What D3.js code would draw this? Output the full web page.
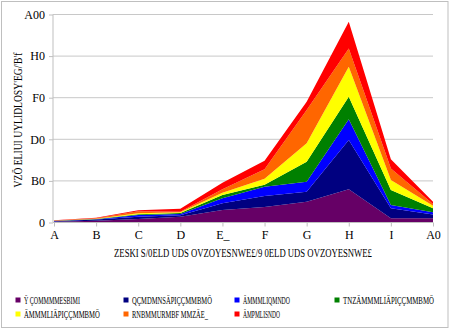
<!DOCTYPE html>
<html><head><meta charset="utf-8">
<script src="https://cdn.jsdelivr.net/npm/d3@7"></script>
<style>body{margin:0;background:#fff}svg{display:block}text{font-family:"Liberation Serif","DejaVu Serif",serif;fill:#000}</style>
</head><body>
<script>
const categories = ["A","B","C","D","E_","F","G","H","I","A0"];
const yTickLabels = ["0","B0","D0","F0","H0","A00"];
const yTickValues = [0,20,40,60,80,100];
const seriesNames = ["Ÿ ÇOMMMMESBIMI","QÇMDMNSÄPIÇÇMMBMÖ","ÄMMMLIQMNDO","TNZÄMMMLIÄPIÇÇMMBMÖ","ÄMMMLIÄPIÇÇMMBMÖ","RNBMMURMBF MMZÄE_","ÄMPMLISNDO"];
const colors = ["#660066","#000080","#0000FF","#008000","#FFFF00","#FF6600","#FF0000"];
const s1 = [0.4,0.9,1.7,2.8,6.0,7.4,10.0,16.0,2.0,2.0];
const s2 = [0.2,0.6,1.1,0.7,3.2,5.4,4.8,23.7,4.8,1.9];
const s3 = [0.1,0.1,0.8,0.6,2.4,4.4,4.8,9.9,1.6,1.0];
const s4 = [0.1,0.1,0.4,0.5,1.6,1.0,9.6,10.9,7.2,1.9];
const s5 = [0.1,0.1,0.4,0.3,1.1,2.8,8.9,14.4,4.8,1.3];
const s6 = [0.1,0.2,1.0,0.3,1.7,4.6,16.0,8.8,5.6,0.8];
const s7 = [0.1,0.3,0.5,1.4,3.1,4.1,4.0,12.8,4.4,1.1];
const xTitle = "ZESKI S/0ELD UDS OVZOYESNWE£/9 0ELD UDS OVZOYESNWE£";
const yTitle = "VZÖ ELIUI UYLIDLOSY'EG/'B'f";

const W=453,H=330;
const svg=d3.select("body").append("svg").attr("width",W).attr("height",H);
svg.append("rect").attr("x",1.5).attr("y",1.5).attr("width",446.5).attr("height",326).attr("fill","#fff").attr("stroke","#bfbfbf");

const x=d3.scalePoint().domain(categories).range([54,433]);
const y=d3.scaleLinear().domain([0,100]).range([222.5,14.5]);
const allS=[s1,s2,s3,s4,s5,s6,s7];
const table=categories.map((c,i)=>{const o={cat:c};allS.forEach((s,k)=>o["k"+k]=s[i]);return o;});
const stack=d3.stack().keys(allS.map((s,k)=>"k"+k))(table);

svg.append("g").selectAll("line").data(yTickValues.slice(1)).join("line")
 .attr("x1",53).attr("x2",433).attr("y1",d=>y(d)).attr("y2",d=>y(d)).attr("stroke","#c8c8c8").attr("stroke-width",1);

const area=d3.area().x(d=>x(d.data.cat)).y0(d=>y(d[0])).y1(d=>y(d[1]));
svg.append("g").selectAll("path").data(stack).join("path").attr("d",area).attr("fill",(d,i)=>colors[i]);

const ya=svg.append("g").attr("transform","translate(53,0)").call(d3.axisLeft(y).tickValues(yTickValues).tickFormat((d,i)=>yTickLabels[i]).tickSize(4).tickPadding(4));
ya.select(".domain").attr("stroke","#bfbfbf").attr("d","M0,222.5V14.5");
ya.selectAll(".tick line").attr("stroke","#bfbfbf");
ya.selectAll("text").style("font-size","12px").attr("font-family","Liberation Serif");
const xa=svg.append("g").attr("transform","translate(0,222.5)").call(d3.axisBottom(x).tickSize(4).tickPadding(4));
xa.select(".domain").attr("stroke","#bfbfbf").attr("d","M53,0H433");
xa.selectAll(".tick line").attr("stroke","#bfbfbf");
xa.selectAll("text").style("font-size","12px").attr("font-family","Liberation Serif");

// fit text horizontally by scaling
function fitText(g, str, size, width, anchor){
  const t=g.append("text").style("font-size",size+"px").attr("text-anchor",anchor).text(str);
  const w=t.node().getComputedTextLength();
  const sx=Math.min(1,width/w);
  t.attr("transform","scale("+sx+",1)");
  return t;
}
const gx=svg.append("g").attr("transform","translate(243,257)");
fitText(gx,xTitle,12,258,"middle");
const gy=svg.append("g").attr("transform","translate(22,120) rotate(-90)");
fitText(gy,yTitle,12,135,"middle");

const legPos=[[18,300,56],[126,300,80],[237,300,47],[337,300,91],[18,314,76],[126,314,76],[237,314,37]];
const lg=svg.append("g");
seriesNames.forEach((n,i)=>{
  const [lx,ly,lw]=legPos[i];
  lg.append("rect").attr("x",lx-2.5).attr("y",ly-2.5).attr("width",5).attr("height",5).attr("fill",colors[i]);
  const gi=lg.append("g").attr("transform","translate("+(lx+6)+","+(ly+4)+")");
  fitText(gi,n,11,lw,"start");
});
</script>
</body></html>
